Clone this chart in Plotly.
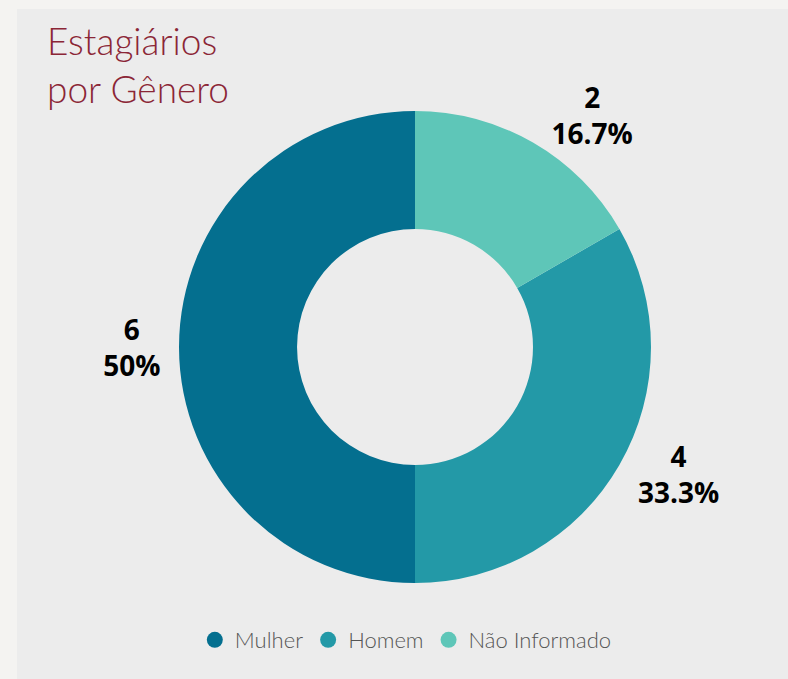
import plotly.graph_objects as go

categories = ["Mulher", "Homem", "Não Informado"]
values = [6, 4, 2]
colors = ["#046f8f", "#2399a7", "#5ec6b8"]
title_lines = ["Estagiários", "por Gênero"]

W, H = 788, 679

fig = go.Figure()

fig.add_trace(go.Pie(
    labels=categories,
    values=values,
    hole=0.5,
    sort=False,
    direction="counterclockwise",
    rotation=180,
    marker=dict(colors=colors, line=dict(width=0)),
    textposition="outside",
    texttemplate="%{value}<br>%{percent}",
    textfont=dict(family="Open Sans", size=28, color="#000000", weight="bold"),
    showlegend=False,
    automargin=False,
    domain=dict(x=[179 / W, 651 / W], y=[96 / H, 568 / H]),
    hoverinfo="label+value+percent",
))

# legend entries with circular symbols
for name, col in zip(categories, colors):
    fig.add_trace(go.Scatter(
        x=[None], y=[None], mode="markers", name=name,
        marker=dict(symbol="circle", size=24, color=col),
        showlegend=True, hoverinfo="skip",
    ))

title_font = dict(family="Lato Light, Lato", size=37, color="#8b2636", weight=300)

fig.update_layout(
    width=W, height=H,
    margin=dict(l=0, r=0, t=0, b=0),
    paper_bgcolor="#f4f3f1",
    plot_bgcolor="rgba(0,0,0,0)",
    xaxis=dict(visible=False),
    yaxis=dict(visible=False),
    shapes=[dict(type="rect", xref="paper", yref="paper",
                 x0=17 / W, x1=1, y0=0, y1=1 - 9 / H,
                 fillcolor="#ececec", line=dict(width=0), layer="below")],
    annotations=[dict(text="<br>".join(title_lines), xref="paper", yref="paper",
                      x=45 / W, y=1 - 16 / H, xanchor="left", yanchor="top",
                      showarrow=False, align="left", font=title_font)],
    legend=dict(orientation="h", x=0.515, xanchor="center", y=39 / H, yanchor="middle",
                font=dict(family="Lato Light, Lato", size=22, color="#555555", weight=300),
                itemwidth=30, bgcolor="rgba(0,0,0,0)", itemclick=False),
)

fig.write_html("out.html", config={"displayModeBar": False},
               post_script="document.body.style.margin='0';")
